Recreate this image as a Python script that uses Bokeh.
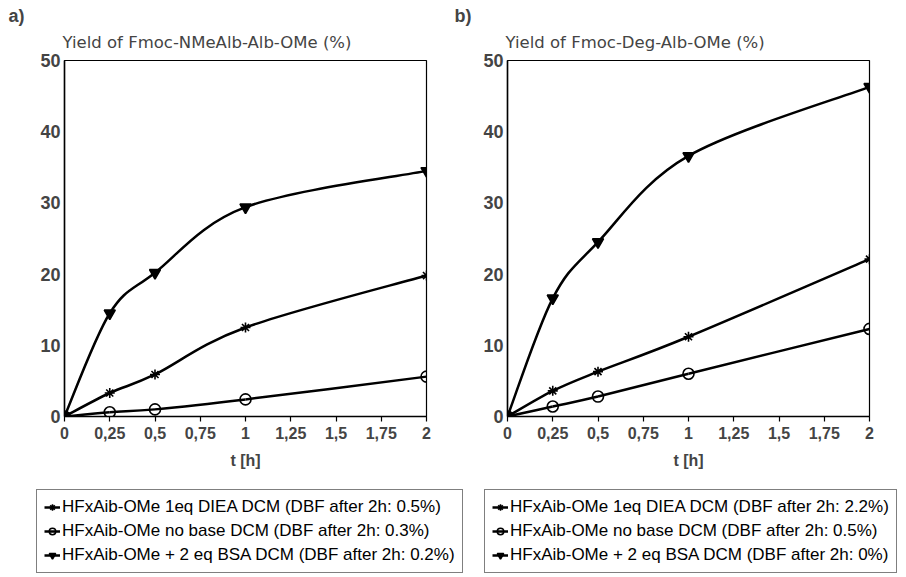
from bokeh.plotting import figure
from bokeh.models import FixedTicker, Title, Legend, LegendItem, ColumnDataSource
from bokeh.layouts import column, row
from bokeh.embed import file_html
from bokeh.resources import INLINE

# ---------------- data ----------------
t_hours = [0, 0.25, 0.5, 1, 2]

# panel a: Yield of Fmoc-NMeAlb-Alb-OMe (%)
a_diea = [0, 3.3, 5.9, 12.5, 19.8]
a_nobase = [0, 0.6, 1.0, 2.4, 5.6]
a_bsa = [0, 14.5, 20.2, 29.4, 34.5]

# panel b: Yield of Fmoc-Deg-Alb-OMe (%)
b_diea = [0, 3.6, 6.3, 11.2, 22.1]
b_nobase = [0, 1.4, 2.8, 6.0, 12.3]
b_bsa = [0, 16.6, 24.5, 36.6, 46.3]

x_ticks = [0, 0.25, 0.5, 0.75, 1, 1.25, 1.5, 1.75, 2]
x_tick_labels = ["0", "0,25", "0,5", "0,75", "1", "1,25", "1,5", "1,75", "2"]
y_ticks = [0, 10, 20, 30, 40, 50]

title_a = "Yield of Fmoc-NMeAlb-Alb-OMe (%)"
title_b = "Yield of Fmoc-Deg-Alb-OMe (%)"
x_label = "t [h]"

legend_a = ["HFxAib-OMe 1eq DIEA DCM (DBF after 2h: 0.5%)",
            "HFxAib-OMe no base DCM (DBF after 2h: 0.3%)",
            "HFxAib-OMe + 2 eq BSA DCM (DBF after 2h: 0.2%)"]
legend_b = ["HFxAib-OMe 1eq DIEA DCM (DBF after 2h: 2.2%)",
            "HFxAib-OMe no base DCM (DBF after 2h: 0.5%)",
            "HFxAib-OMe + 2 eq BSA DCM (DBF after 2h: 0%)"]

# ---------------- styles ----------------
TICK_FONT = "Liberation Sans"
TITLE_FONT = "DejaVu Sans"
LW = 2.5

series_styles = [
    dict(marker="asterisk", size=10, fill_alpha=1.0),
    dict(marker="circle", size=11, fill_alpha=0.0),
    dict(marker="inverted_triangle", size=11, fill_alpha=1.0),
]


def smooth_segments(xs, ys):
    """Catmull-Rom style smoothing (Excel 'smoothed line') as cubic Bezier segments."""
    n = len(xs)
    d = dict(x0=[], y0=[], x1=[], y1=[], cx0=[], cy0=[], cx1=[], cy1=[])
    for i in range(n - 1):
        p0 = (xs[max(i - 1, 0)], ys[max(i - 1, 0)])
        p1 = (xs[i], ys[i])
        p2 = (xs[i + 1], ys[i + 1])
        p3 = (xs[min(i + 2, n - 1)], ys[min(i + 2, n - 1)])
        d["x0"].append(p1[0]); d["y0"].append(p1[1])
        d["x1"].append(p2[0]); d["y1"].append(p2[1])
        d["cx0"].append(p1[0] + (p2[0] - p0[0]) / 6.0)
        d["cy0"].append(p1[1] + (p2[1] - p0[1]) / 6.0)
        d["cx1"].append(p2[0] - (p3[0] - p1[0]) / 6.0)
        d["cy1"].append(p2[1] - (p3[1] - p1[1]) / 6.0)
    return d


def make_panel(tag, title, series, left, width, tag_x):
    p = figure(width=width, height=482, x_range=(0, 2), y_range=(0, 50),
               output_backend="svg", toolbar_location=None,
               min_border_left=left, min_border_right=width - left - 362,
               min_border_top=60, min_border_bottom=66)
    p.background_fill_color = "white"
    p.border_fill_color = "white"
    p.outline_line_color = "black"
    p.outline_line_width = 1.2
    p.grid.visible = False

    # outermost title: panel tag
    p.title.text = tag
    p.title.text_font = TICK_FONT
    p.title.text_font_size = "18px"
    p.title.text_font_style = "bold"
    p.title.align = "left"
    p.title.offset = -(left - tag_x)
    p.title.standoff = -6
    # inner title: y quantity
    p.add_layout(Title(text=title, text_font=TITLE_FONT, text_font_size="16.5px",
                       text_font_style="normal", align="left", offset=-2,
                       standoff=17), "above")

    xa = p.xaxis[0]
    xa.ticker = FixedTicker(ticks=x_ticks)
    xa.major_label_overrides = {t: l for t, l in zip(x_ticks, x_tick_labels)}
    xa.minor_tick_line_color = None
    xa.major_tick_out = 5
    xa.major_tick_in = 0
    xa.major_tick_line_width = 1.2
    xa.axis_line_width = 1.5
    xa.major_label_text_font = TICK_FONT
    xa.major_label_text_font_size = "16px"
    xa.major_label_text_font_style = "bold"
    xa.major_label_standoff = 5
    xa.axis_label = x_label
    xa.axis_label_text_font = TICK_FONT
    xa.axis_label_text_font_size = "16px"
    xa.axis_label_text_font_style = "bold"
    xa.axis_label_standoff = 10

    ya = p.yaxis[0]
    ya.ticker = FixedTicker(ticks=y_ticks)
    ya.minor_tick_line_color = None
    ya.major_tick_out = 0
    ya.major_tick_in = 0
    ya.axis_line_width = 1.5
    ya.major_label_text_font = TICK_FONT
    ya.major_label_text_font_size = "18px"
    ya.major_label_text_font_style = "bold"
    ya.major_label_standoff = 4

    for ys, st in zip(series, series_styles):
        src = ColumnDataSource(smooth_segments(t_hours, ys))
        p.bezier(x0="x0", y0="y0", x1="x1", y1="y1", cx0="cx0", cy0="cy0",
                 cx1="cx1", cy1="cy1", source=src, line_color="black", line_width=LW)
        p.scatter(t_hours, ys, marker=st["marker"], size=st["size"],
                  line_color="black", line_width=1.6, fill_color="black",
                  fill_alpha=st["fill_alpha"])
    return p


def make_legend_fig(width, left, labels):
    f = figure(width=width, height=95, x_range=(0, 1), y_range=(0, 1),
               output_backend="svg", toolbar_location=None,
               min_border_left=left, min_border_right=0,
               min_border_top=7, min_border_bottom=0)
    f.axis.visible = False
    f.grid.visible = False
    f.outline_line_color = None
    f.background_fill_color = "white"
    f.border_fill_color = "white"
    items = []
    for lbl, st in zip(labels, series_styles):
        # off-range placeholder glyphs: only their legend swatches are visible
        lr = f.line([-5, -4], [-5, -5], line_color="black", line_width=LW)
        sr = f.scatter([-5], [-5], marker=st["marker"], size=st["size"] - 1,
                       line_color="black", line_width=1.6, fill_color="black",
                       fill_alpha=st["fill_alpha"])
        items.append(LegendItem(label=lbl, renderers=[lr, sr]))
    leg = Legend(items=items, location="top_left", margin=0, padding=7, spacing=4,
                 label_height=20, glyph_height=20, glyph_width=16, label_standoff=2,
                 border_line_color="black", border_line_width=1.2,
                 background_fill_color="white", background_fill_alpha=1.0,
                 label_text_font=TICK_FONT, label_text_font_size="17px",
                 label_text_color="black")
    f.add_layout(leg, "center")
    return f


pa = make_panel("a)", title_a, [a_diea, a_nobase, a_bsa], 64, 453, 8)
pb = make_panel("b)", title_b, [b_diea, b_nobase, b_bsa], 54, 453, 1)
la = make_legend_fig(475, 36, legend_a)
lb = make_legend_fig(431, 9, legend_b)

layout = column(row(pa, pb, spacing=0), row(la, lb, spacing=0), spacing=0)

open("out.html", "w").write(file_html(layout, INLINE))
